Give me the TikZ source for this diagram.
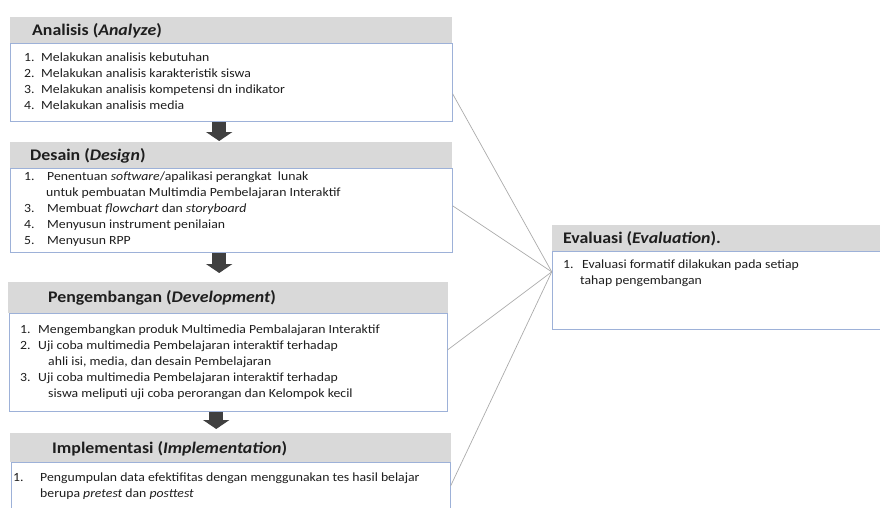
\documentclass[tikz,border=0pt]{standalone}
\usepackage{fontspec}
\setmainfont{Carlito}[FakeStretch=1.1]
\usetikzlibrary{positioning,arrows.meta}
\definecolor{hdrgray}{HTML}{D9D9D9}
\definecolor{boxblue}{HTML}{9DB1D8}
\definecolor{linkgray}{HTML}{ABABAB}
\definecolor{arrowdark}{HTML}{404040}
\definecolor{txt}{HTML}{1E1E1E}
\tikzset{
  hdr/.style={fill=hdrgray, anchor=north west, inner sep=0pt, minimum height=26pt},
  bodybox/.style={draw=boxblue, line width=0.9pt, fill=white, inner sep=0pt, below=0pt of #1},
  hdrtext/.style={font=\fontsize{16.2}{19}\selectfont\bfseries, text=txt, anchor=west, inner sep=0pt},
  itemtext/.style={font=\fontsize{12.5}{16}\selectfont, text=txt, align=left, anchor=north west, inner sep=0pt},
  flow/.style={arrowdark, line width=14pt, -{Triangle[width=26pt,length=9pt]}},
  link/.style={linkgray, line width=0.7pt}
}
\newcommand{\itemno}[2]{\makebox[#1][l]{#2}}
\begin{document}
\begin{tikzpicture}[x=1pt, y=-1pt]
  \clip (0,0) rectangle (880,508);
  % stage boxes: gray header + bordered body
  \node[hdr, minimum width=442pt] (anah) at (10,17) {};
  \node[bodybox=anah, minimum width=442pt, minimum height=78pt] (anab) {};
  \node[hdr, minimum width=442pt] (desh) at (10,142) {};
  \node[bodybox=desh, minimum width=442pt, minimum height=84pt] (desb) {};
  \node[hdr, minimum width=440pt, minimum height=31pt] (pgh) at (8,282) {};
  \node[bodybox=pgh, minimum width=438pt, minimum height=98pt] (pgb) {};
  \node[hdr, minimum width=441pt, minimum height=29pt] (imph) at (10,433) {};
  \node[bodybox=imph, minimum width=439pt, minimum height=70pt] (impb) {};
  \node[hdr, minimum width=340pt] (evh) at (552,225) {};
  \node[bodybox=evh, minimum width=340pt, minimum height=78pt] (evb) {};
  % headers
  \node[hdrtext] (anat) at (32,31) {Analisis (\textit{Analyze})};
  \node[hdrtext] (dest) at (30,156) {Desain (\textit{Design})};
  \node[hdrtext] (pgt) at (48,298) {Pengembangan (\textit{Development})};
  \node[hdrtext] (impt) at (52,449) {Implementasi (\textit{Implementation})};
  \node[hdrtext] (evt) at (563,239) {Evaluasi (\textit{Evaluation}).};
  % item lists
  \node[itemtext] (anai) at (24,53) {\itemno{17pt}{1.}Melakukan analisis kebutuhan\\
    \itemno{17pt}{2.}Melakukan analisis karakteristik siswa\\
    \itemno{17pt}{3.}Melakukan analisis kompetensi dn indikator\\
    \itemno{17pt}{4.}Melakukan analisis media};
  \node[itemtext] (desi) at (24,171.5) {\itemno{23pt}{1.}Penentuan \textit{software}/apalikasi perangkat\ \ lunak\\
    \hspace*{22pt}untuk pembuatan Multimdia Pembelajaran Interaktif\\
    \itemno{23pt}{3.}Membuat \textit{flowchart} dan \textit{storyboard}\\
    \itemno{23pt}{4.}Menyusun instrument penilaian\\
    \itemno{23pt}{5.}Menyusun RPP};
  \node[itemtext] (pgi) at (20,324.5) {\itemno{18pt}{1.}Mengembangkan produk Multimedia Pembalajaran Interaktif\\
    \itemno{18pt}{2.}Uji coba multimedia Pembelajaran interaktif terhadap\\
    \hspace*{28pt}ahli isi, media, dan desain Pembelajaran\\
    \itemno{18pt}{3.}Uji coba multimedia Pembelajaran interaktif terhadap\\
    \hspace*{28pt}siswa meliputi uji coba perorangan dan Kelompok kecil};
  \node[itemtext] (impi) at (13,472.5) {\itemno{27pt}{1.}Pengumpulan data efektifitas dengan menggunakan tes hasil belajar\\
    \hspace*{27pt}berupa \textit{pretest} dan \textit{posttest}};
  \node[itemtext] (evi) at (563,259.5) {\itemno{19pt}{1.}Evaluasi formatif dilakukan pada setiap\\
    \hspace*{17pt}tahap pengembangan};
  % block arrows between stages
  \foreach \a/\b/\s in {anab/desh/1pt, desb/pgh/9pt, pgb/imph/4pt}
    \draw[flow, shorten >=\s] ([xshift=-12pt]\a.south) -- ([xshift=-12pt]\a.south |- \b.north);
  % links to evaluation
  \coordinate (evin) at ([yshift=19pt]evb.west);
  \draw[link] ([yshift=-11pt]anab.east) -- (evin);
  \draw[link] ([yshift=5pt]desb.east) -- (evin);
  \draw[link] ([yshift=13pt]pgb.east) -- (evin);
  \draw[link] ([yshift=12pt]impb.east) -- (evin);
\end{tikzpicture}
\end{document}
